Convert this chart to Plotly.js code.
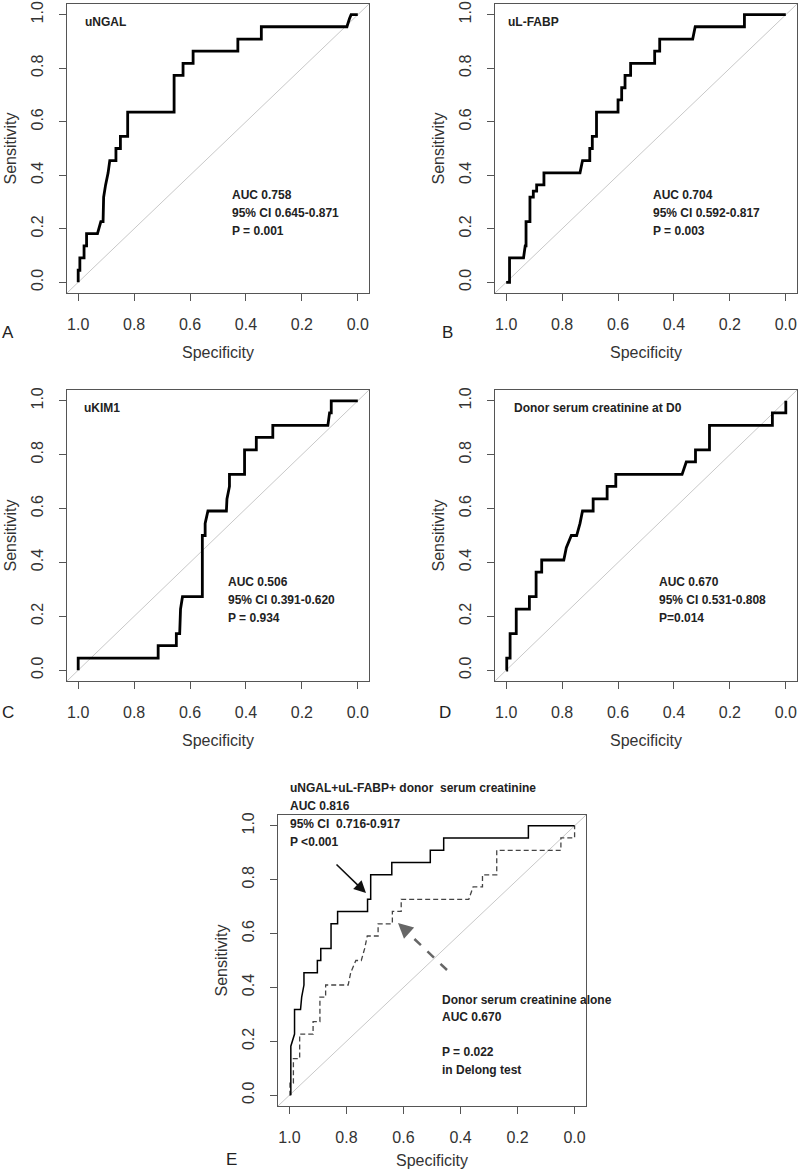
<!DOCTYPE html>
<html><head><meta charset="utf-8">
<script src="https://cdn.plot.ly/plotly-3.0.1.min.js"></script>
<style>html,body{margin:0;padding:0;background:#fff}#chart{width:800px;height:1172px}</style>
</head><body><div id="chart"></div>
<script>
// ---------- data ----------
const tickValues = [0, 0.2, 0.4, 0.6, 0.8, 1.0];
const tickLabels = ['0.0', '0.2', '0.4', '0.6', '0.8', '1.0'];
const panelLetters = ['A', 'B', 'C', 'D', 'E'];
const panelNames = ['uNGAL', 'uL-FABP', 'uKIM1', 'Donor serum creatinine at D0', 'uNGAL+uL-FABP+ donor  serum creatinine'];
const aucLabels = ['AUC 0.758', 'AUC 0.704', 'AUC 0.506', 'AUC 0.670', 'AUC 0.816'];
const ciLabels = ['95% CI 0.645-0.871', '95% CI 0.592-0.817', '95% CI 0.391-0.620', '95% CI 0.531-0.808', '95% CI  0.716-0.917'];
const pLabels = ['P = 0.001', 'P = 0.003', 'P = 0.934', 'P=0.014', 'P <0.001'];
const compareLabels = ['Donor serum creatinine alone', 'AUC 0.670', 'P = 0.022', 'in Delong test'];
const xTitle = 'Specificity';
const yTitle = 'Sensitivity';

// A: uNGAL
const specA = [1.000, 1.000, 0.994, 0.994, 0.979, 0.979, 0.970, 0.970, 0.931, 0.925, 0.919, 0.911, 0.909, 0.902, 0.893, 0.887, 0.865, 0.865, 0.849, 0.849, 0.823, 0.823, 0.657, 0.657, 0.625, 0.625, 0.589, 0.589, 0.429, 0.429, 0.345, 0.345, 0.039, 0.030, 0.024, 0.000];
const sensA = [0.000, 0.045, 0.045, 0.091, 0.091, 0.136, 0.136, 0.182, 0.182, 0.205, 0.227, 0.227, 0.318, 0.364, 0.409, 0.455, 0.455, 0.500, 0.500, 0.545, 0.545, 0.636, 0.636, 0.773, 0.773, 0.818, 0.818, 0.864, 0.864, 0.909, 0.909, 0.955, 0.955, 0.985, 1.000, 1.000];
// B: uL-FABP
const specB = [1.000, 0.988, 0.988, 0.938, 0.932, 0.929, 0.929, 0.915, 0.915, 0.903, 0.903, 0.891, 0.891, 0.865, 0.865, 0.736, 0.727, 0.718, 0.701, 0.701, 0.692, 0.692, 0.677, 0.677, 0.600, 0.600, 0.587, 0.587, 0.575, 0.575, 0.555, 0.555, 0.469, 0.469, 0.451, 0.451, 0.333, 0.324, 0.148, 0.148, 0.000];
const sensB = [0.000, 0.000, 0.091, 0.091, 0.136, 0.136, 0.227, 0.227, 0.318, 0.318, 0.341, 0.341, 0.364, 0.364, 0.409, 0.409, 0.455, 0.455, 0.455, 0.500, 0.500, 0.545, 0.545, 0.636, 0.636, 0.682, 0.682, 0.727, 0.727, 0.773, 0.773, 0.818, 0.818, 0.864, 0.864, 0.909, 0.909, 0.955, 0.955, 1.000, 1.000];
// C: uKIM1
const specC = [1.000, 1.000, 0.714, 0.714, 0.649, 0.649, 0.637, 0.634, 0.627, 0.556, 0.556, 0.546, 0.546, 0.540, 0.536, 0.470, 0.468, 0.459, 0.459, 0.405, 0.405, 0.363, 0.363, 0.304, 0.304, 0.107, 0.101, 0.095, 0.095, 0.000];
const sensC = [0.000, 0.045, 0.045, 0.091, 0.091, 0.136, 0.136, 0.227, 0.273, 0.273, 0.500, 0.500, 0.545, 0.568, 0.591, 0.591, 0.636, 0.682, 0.727, 0.727, 0.818, 0.818, 0.864, 0.864, 0.909, 0.909, 0.955, 0.955, 1.000, 1.000];
// D: donor serum creatinine (also the dashed curve in E)
const specD = [1.000, 0.998, 0.998, 0.986, 0.986, 0.964, 0.964, 0.917, 0.917, 0.893, 0.893, 0.873, 0.873, 0.794, 0.785, 0.767, 0.748, 0.736, 0.727, 0.689, 0.689, 0.639, 0.639, 0.608, 0.608, 0.371, 0.356, 0.323, 0.323, 0.273, 0.273, 0.048, 0.048, 0.000, 0.000];
const sensD = [0.000, 0.000, 0.045, 0.045, 0.136, 0.136, 0.227, 0.227, 0.273, 0.273, 0.364, 0.364, 0.409, 0.409, 0.455, 0.500, 0.500, 0.545, 0.591, 0.591, 0.636, 0.636, 0.682, 0.682, 0.727, 0.727, 0.773, 0.773, 0.818, 0.818, 0.909, 0.909, 0.955, 0.955, 1.000];
// E: uNGAL + uL-FABP + donor serum creatinine
const specE = [0.995, 0.995, 0.982, 0.982, 0.961, 0.957, 0.949, 0.949, 0.902, 0.902, 0.890, 0.890, 0.854, 0.854, 0.831, 0.831, 0.726, 0.726, 0.715, 0.715, 0.641, 0.641, 0.506, 0.506, 0.459, 0.459, 0.162, 0.162, 0.000];
const sensE = [0.000, 0.182, 0.227, 0.318, 0.318, 0.364, 0.409, 0.455, 0.455, 0.500, 0.500, 0.545, 0.545, 0.636, 0.636, 0.682, 0.682, 0.727, 0.727, 0.818, 0.818, 0.864, 0.864, 0.909, 0.909, 0.955, 0.955, 1.000, 1.000];

// ---------- layout geometry (pixels) ----------
const W = 800, H = 1172;
const FONT = '"Liberation Sans", Arial, sans-serif';
const boxes = [
  {x0: 67, x1: 369, y0: 4, y1: 293},
  {x0: 495, x1: 797, y0: 4, y1: 293},
  {x0: 67, x1: 369, y0: 390, y1: 681},
  {x0: 495, x1: 797, y0: 390, y1: 681},
  {x0: 278, x1: 586, y0: 815, y1: 1106}
];
const fx = px => px / W;
const fy = py => 1 - py / H;

const layout = {
  width: W, height: H,
  margin: {l: 0, r: 0, t: 0, b: 0},
  paper_bgcolor: '#fff', plot_bgcolor: '#fff',
  showlegend: false,
  font: {family: FONT, color: '#333'},
  annotations: [], shapes: []
};

boxes.forEach((b, i) => {
  const s = i === 0 ? '' : String(i + 1);
  const common = {
    tickvals: tickValues, ticktext: tickLabels,
    ticks: 'outside', ticklen: 7, tickwidth: 1, tickcolor: '#555',
    showline: true, mirror: true, linecolor: '#555', linewidth: 1,
    showgrid: false, zeroline: false, fixedrange: true, autorange: false,
    tickfont: {size: 16, color: '#333', family: FONT},
    ticklabelstandoff: 10
  };
  layout['xaxis' + s] = Object.assign({}, common, {
    domain: [fx(b.x0), fx(b.x1)], anchor: 'y' + s, range: [1.04, -0.04]
  });
  layout['yaxis' + s] = Object.assign({}, common, {
    domain: [fy(b.y1), fy(b.y0)], anchor: 'x' + s, range: [-0.04, 1.04], tickangle: -90
  });
  // chance diagonal
  layout.shapes.push({type: 'line', xref: 'x' + s + ' domain', yref: 'y' + s + ' domain',
    x0: 0, y0: 0, x1: 1, y1: 1, line: {color: '#c8c8c8', width: 1}, layer: 'below'});
  // axis titles
  layout.annotations.push({text: xTitle, xref: 'paper', yref: 'paper',
    x: fx((b.x0 + b.x1) / 2), y: fy(i === 4 ? b.y1 + 54 : b.y1 + 59), showarrow: false,
    xanchor: 'center', yanchor: 'middle', font: {size: 16, color: '#333', family: FONT}});
  layout.annotations.push({text: yTitle, xref: 'paper', yref: 'paper', textangle: -90,
    x: fx(b.x0 - 57), y: fy((b.y0 + b.y1) / 2), showarrow: false,
    xanchor: 'center', yanchor: 'middle', font: {size: 16, color: '#333', family: FONT}});
});

// panel letters
const letterPos = [[8, 332], [447, 332], [8, 712], [445, 712], [232, 1159]];
letterPos.forEach((p, i) => layout.annotations.push({text: panelLetters[i], xref: 'paper', yref: 'paper',
  x: fx(p[0]), y: fy(p[1]), showarrow: false, xanchor: 'center', yanchor: 'middle',
  font: {size: 17, color: '#222', family: FONT}}));

// in-panel bold texts
function boldText(t, px, py) {
  layout.annotations.push({text: '<b>' + t + '</b>', xref: 'paper', yref: 'paper',
    x: fx(px), y: fy(py), showarrow: false, xanchor: 'left', yanchor: 'middle',
    font: {size: 12, color: '#222', family: FONT}});
}
const namePos = [[83, 22], [506, 22], [82, 408], [512, 408]];
const statPos = [[230, 195], [651, 195], [226, 582], [657, 582]];
for (let i = 0; i < 4; i++) {
  boldText(panelNames[i], namePos[i][0], namePos[i][1]);
  boldText(aucLabels[i], statPos[i][0], statPos[i][1]);
  boldText(ciLabels[i], statPos[i][0], statPos[i][1] + 18);
  boldText(pLabels[i], statPos[i][0], statPos[i][1] + 36);
}
// panel E texts
boldText(panelNames[4], 288, 788);
boldText(aucLabels[4], 288, 806);
boldText(ciLabels[4], 288, 824);
boldText(pLabels[4], 288, 842);
boldText(compareLabels[0], 440, 1000);
boldText(compareLabels[1], 440, 1017);
boldText(compareLabels[2], 440, 1052);
boldText(compareLabels[3], 440, 1070);

// arrows in E
layout.annotations.push({text: '', xref: 'paper', yref: 'paper', x: fx(366), y: fy(893),
  showarrow: true, ax: -31, ay: -30, arrowhead: 2, arrowsize: 1.5, arrowwidth: 1.6, arrowcolor: '#111'});
layout.shapes.push({type: 'line', xref: 'paper', yref: 'paper', x0: fx(447), y0: fy(970), x1: fx(406), y1: fy(931),
  line: {color: '#666', width: 2.5, dash: 'dash'}});
layout.annotations.push({text: '', xref: 'paper', yref: 'paper', x: fx(398), y: fy(923),
  showarrow: true, ax: 12, ay: 11, arrowhead: 2, arrowsize: 1.2, arrowwidth: 2.5, arrowcolor: '#666'});

// ---------- traces ----------
const thick = {color: '#000', width: 2.8};
const traces = [
  {x: specA, y: sensA, xaxis: 'x', yaxis: 'y', mode: 'lines', line: thick, hoverinfo: 'skip'},
  {x: specB, y: sensB, xaxis: 'x2', yaxis: 'y2', mode: 'lines', line: thick, hoverinfo: 'skip'},
  {x: specC, y: sensC, xaxis: 'x3', yaxis: 'y3', mode: 'lines', line: thick, hoverinfo: 'skip'},
  {x: specD, y: sensD, xaxis: 'x4', yaxis: 'y4', mode: 'lines', line: thick, hoverinfo: 'skip'},
  {x: specD, y: sensD, xaxis: 'x5', yaxis: 'y5', mode: 'lines', line: {color: '#444', width: 1.3, dash: '5px,3px'}, hoverinfo: 'skip'},
  {x: specE, y: sensE, xaxis: 'x5', yaxis: 'y5', mode: 'lines', line: {color: '#000', width: 1.5}, hoverinfo: 'skip'}
];

Plotly.newPlot('chart', traces, layout, {staticPlot: true, displayModeBar: false});
</script>
</body></html>
